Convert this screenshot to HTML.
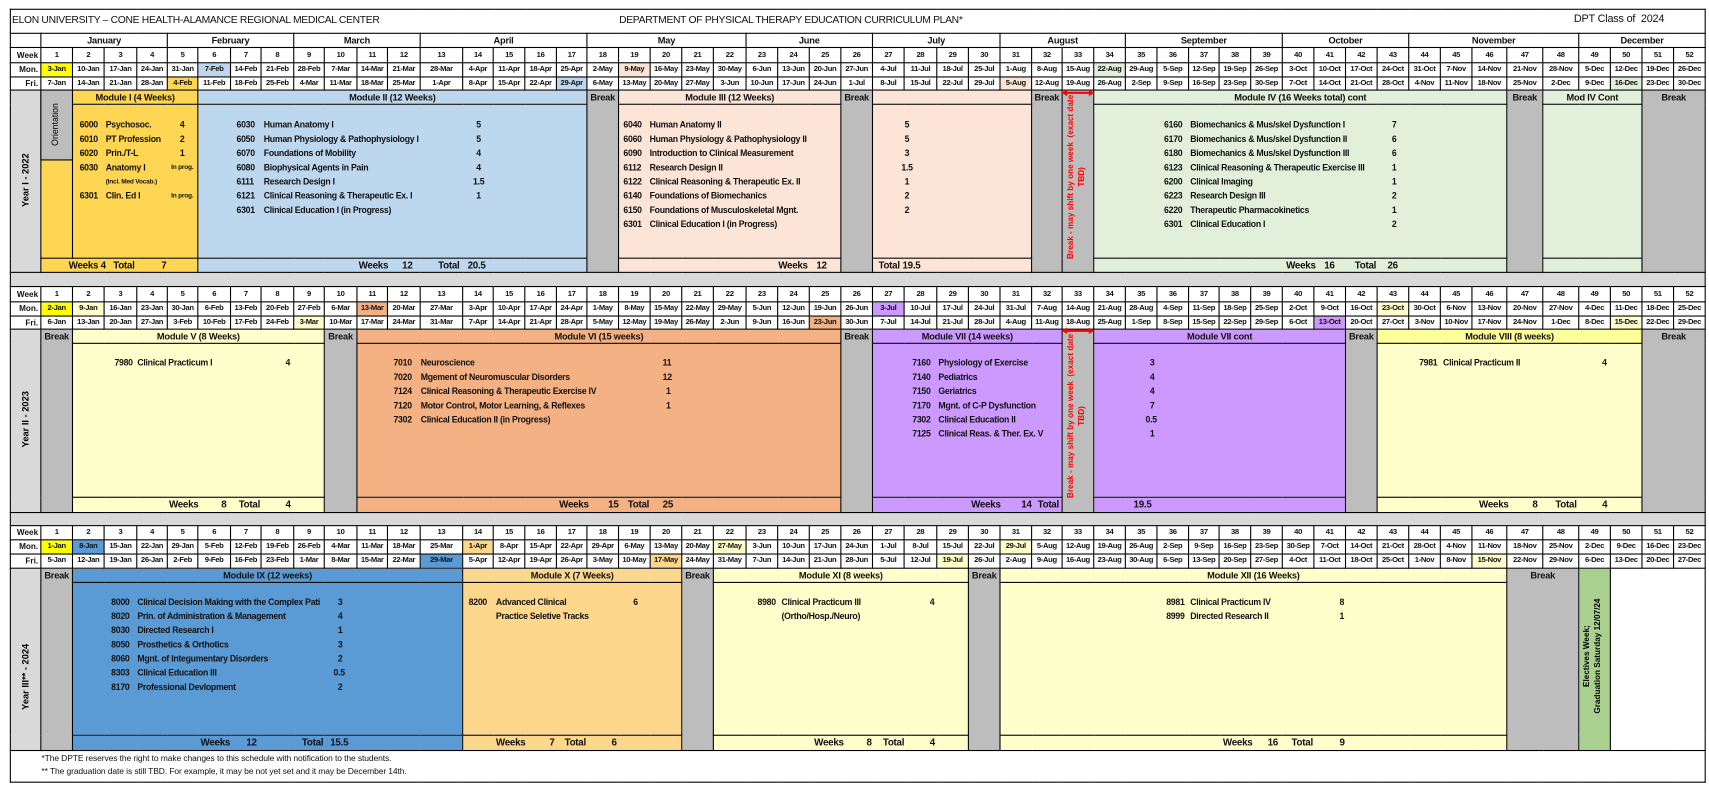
<!DOCTYPE html>
<html><head><meta charset="utf-8">
<style>
html,body{margin:0;padding:0;background:#fff;width:1709px;height:786px;overflow:hidden}
#w{position:absolute;left:0;top:0;width:1568px;height:720px;transform:scale(1.08992,1.09167);transform-origin:0 0;font-family:"Liberation Sans",sans-serif}
table{position:absolute;left:9px;top:8px;border-collapse:collapse;table-layout:fixed;width:1555px}
td{border:1px solid #000;padding:0;text-align:center;font:bold 7px/10px "Liberation Sans",sans-serif;white-space:nowrap;overflow:hidden;letter-spacing:-.3px;color:#111}
td.l{text-align:right;padding-right:2px;font-size:7.5px;letter-spacing:0}
td.mh{font-size:8.5px;letter-spacing:-.2px}
td.bk{vertical-align:top;font-size:8.5px;letter-spacing:-.2px;line-height:12px}
.g{background:#bdbdbd}.s{background:#d9d9d9}.yl{background:#ffd653}.bl{background:#bdd7ee}.sa{background:#fce4d6}.gr{background:#e2efda}
.ly{background:#ffffcc}.y9{background:#ffff99}.or{background:#f4b183}.pu{background:#cc99ff}.b9{background:#5b9bd5}.xo{background:#fdd78c}.el{background:#a9d08e}.yy{background:#ffff00}
.t{position:absolute;font:bold 8px/10px "Liberation Sans",sans-serif;letter-spacing:-.25px;white-space:nowrap;color:#111}
.sm{font-size:6px;letter-spacing:-.2px}
.rot{position:absolute;transform:rotate(-90deg);text-align:center;white-space:nowrap;font:bold 8.5px/10px "Liberation Sans",sans-serif}
</style></head><body><div id="w">
<table>
<colgroup>
<col style="width:28px">
<col style="width:29px"><col style="width:29px"><col style="width:30px"><col style="width:28px"><col style="width:28px"><col style="width:30px"><col style="width:28px"><col style="width:30px"><col style="width:28px"><col style="width:30px"><col style="width:28px"><col style="width:30px"><col style="width:39px"><col style="width:28px"><col style="width:29px"><col style="width:29px"><col style="width:28px">
<col style="width:29px"><col style="width:29px"><col style="width:29px"><col style="width:29px"><col style="width:30px"><col style="width:29px"><col style="width:29px"><col style="width:29px"><col style="width:29px"><col style="width:29px"><col style="width:30px"><col style="width:29px"><col style="width:29px">
<col style="width:29px"><col style="width:28px"><col style="width:29px"><col style="width:29px"><col style="width:29px"><col style="width:29px"><col style="width:28px"><col style="width:29px"><col style="width:29px"><col style="width:29px"><col style="width:29px"><col style="width:29px"><col style="width:29px"><col style="width:29px"><col style="width:29px"><col style="width:32px"><col style="width:33px"><col style="width:33px"><col style="width:29px"><col style="width:29px"><col style="width:29px"><col style="width:29px">
</colgroup>
<!-- BLOCK 1 -->
<tr style="height:22px"><td colspan="53"></td></tr>
<tr style="height:13px"><td style="border-left:1px solid #000"></td><td colspan="4" class="mh">January</td><td colspan="4" class="mh">February</td><td colspan="4" class="mh">March</td><td colspan="5" class="mh">April</td><td colspan="5" class="mh">May</td><td colspan="4" class="mh">June</td><td colspan="4" class="mh">July</td><td colspan="4" class="mh">August</td><td colspan="5" class="mh">September</td><td colspan="4" class="mh">October</td><td colspan="5" class="mh">November</td><td colspan="4" class="mh">December</td></tr>
<tr style="height:14px"><td class="l">Week</td><td>1</td><td>2</td><td>3</td><td>4</td><td>5</td><td>6</td><td>7</td><td>8</td><td>9</td><td>10</td><td>11</td><td>12</td><td>13</td><td>14</td><td>15</td><td>16</td><td>17</td><td>18</td><td>19</td><td>20</td><td>21</td><td>22</td><td>23</td><td>24</td><td>25</td><td>26</td><td>27</td><td>28</td><td>29</td><td>30</td><td>31</td><td>32</td><td>33</td><td>34</td><td>35</td><td>36</td><td>37</td><td>38</td><td>39</td><td>40</td><td>41</td><td>42</td><td>43</td><td>44</td><td>45</td><td>46</td><td>47</td><td>48</td><td>49</td><td>50</td><td>51</td><td>52</td></tr>
<tr style="height:13px"><td class="l">Mon.</td><td class="yy">3-Jan</td><td>10-Jan</td><td>17-Jan</td><td>24-Jan</td><td>31-Jan</td><td class="bl">7-Feb</td><td>14-Feb</td><td>21-Feb</td><td>28-Feb</td><td>7-Mar</td><td>14-Mar</td><td>21-Mar</td><td>28-Mar</td><td>4-Apr</td><td>11-Apr</td><td>18-Apr</td><td>25-Apr</td><td>2-May</td><td class="sa">9-May</td><td>16-May</td><td>23-May</td><td>30-May</td><td>6-Jun</td><td>13-Jun</td><td>20-Jun</td><td>27-Jun</td><td>4-Jul</td><td>11-Jul</td><td>18-Jul</td><td>25-Jul</td><td>1-Aug</td><td>8-Aug</td><td>15-Aug</td><td class="gr">22-Aug</td><td>29-Aug</td><td>5-Sep</td><td>12-Sep</td><td>19-Sep</td><td>26-Sep</td><td>3-Oct</td><td>10-Oct</td><td>17-Oct</td><td>24-Oct</td><td>31-Oct</td><td>7-Nov</td><td>14-Nov</td><td>21-Nov</td><td>28-Nov</td><td>5-Dec</td><td>12-Dec</td><td>19-Dec</td><td>26-Dec</td></tr>
<tr style="height:12px"><td class="l">Fri.</td><td>7-Jan</td><td>14-Jan</td><td>21-Jan</td><td>28-Jan</td><td class="yl">4-Feb</td><td>11-Feb</td><td>18-Feb</td><td>25-Feb</td><td>4-Mar</td><td>11-Mar</td><td>18-Mar</td><td>25-Mar</td><td>1-Apr</td><td>8-Apr</td><td>15-Apr</td><td>22-Apr</td><td class="bl">29-Apr</td><td>6-May</td><td>13-May</td><td>20-May</td><td>27-May</td><td>3-Jun</td><td>10-Jun</td><td>17-Jun</td><td>24-Jun</td><td>1-Jul</td><td>8-Jul</td><td>15-Jul</td><td>22-Jul</td><td>29-Jul</td><td class="sa">5-Aug</td><td>12-Aug</td><td>19-Aug</td><td>26-Aug</td><td>2-Sep</td><td>9-Sep</td><td>16-Sep</td><td>23-Sep</td><td>30-Sep</td><td>7-Oct</td><td>14-Oct</td><td>21-Oct</td><td>28-Oct</td><td>4-Nov</td><td>11-Nov</td><td>18-Nov</td><td>25-Nov</td><td>2-Dec</td><td>9-Dec</td><td class="gr">16-Dec</td><td>23-Dec</td><td>30-Dec</td></tr>
<tr style="height:13px"><td rowspan="3" class="s"></td><td rowspan="2" class="yl"></td><td colspan="4" class="yl mh">Module I (4 Weeks)</td><td colspan="12" class="bl mh">Module II (12 Weeks)</td><td rowspan="3" class="g bk">Break</td><td colspan="7" class="sa mh">Module III (12 Weeks)</td><td rowspan="3" class="g bk">Break</td><td colspan="5" class="sa"></td><td rowspan="3" class="g bk">Break</td><td rowspan="3" class="g"></td><td colspan="13" class="gr mh">Module IV (16 Weeks total) cont</td><td rowspan="3" class="g bk">Break</td><td colspan="3" class="gr mh">Mod IV Cont</td><td colspan="2" rowspan="3" class="g bk">Break</td></tr>
<tr style="height:141px"><td colspan="4" class="yl"></td><td colspan="12" class="bl"></td><td colspan="7" class="sa"></td><td colspan="5" class="sa"></td><td colspan="13" class="gr"></td><td colspan="3" class="gr"></td></tr>
<tr style="height:13px"><td colspan="5" class="yl"></td><td colspan="12" class="bl"></td><td colspan="7" class="sa"></td><td colspan="5" class="sa"></td><td colspan="13" class="gr"></td><td colspan="3" class="gr"></td></tr>
<tr style="height:13px"><td colspan="53" class="s"></td></tr>
<!-- BLOCK 2 -->
<tr style="height:14px"><td class="l">Week</td><td>1</td><td>2</td><td>3</td><td>4</td><td>5</td><td>6</td><td>7</td><td>8</td><td>9</td><td>10</td><td>11</td><td>12</td><td>13</td><td>14</td><td>15</td><td>16</td><td>17</td><td>18</td><td>19</td><td>20</td><td>21</td><td>22</td><td>23</td><td>24</td><td>25</td><td>26</td><td>27</td><td>28</td><td>29</td><td>30</td><td>31</td><td>32</td><td>33</td><td>34</td><td>35</td><td>36</td><td>37</td><td>38</td><td>39</td><td>40</td><td>41</td><td>42</td><td>43</td><td>44</td><td>45</td><td>46</td><td>47</td><td>48</td><td>49</td><td>50</td><td>51</td><td>52</td></tr>
<tr style="height:13px"><td class="l">Mon.</td><td class="yy">2-Jan</td><td class="ly">9-Jan</td><td>16-Jan</td><td>23-Jan</td><td>30-Jan</td><td>6-Feb</td><td>13-Feb</td><td>20-Feb</td><td>27-Feb</td><td>6-Mar</td><td class="or">13-Mar</td><td>20-Mar</td><td>27-Mar</td><td>3-Apr</td><td>10-Apr</td><td>17-Apr</td><td>24-Apr</td><td>1-May</td><td>8-May</td><td>15-May</td><td>22-May</td><td>29-May</td><td>5-Jun</td><td>12-Jun</td><td>19-Jun</td><td>26-Jun</td><td class="pu">3-Jul</td><td>10-Jul</td><td>17-Jul</td><td>24-Jul</td><td>31-Jul</td><td>7-Aug</td><td>14-Aug</td><td>21-Aug</td><td>28-Aug</td><td>4-Sep</td><td>11-Sep</td><td>18-Sep</td><td>25-Sep</td><td>2-Oct</td><td>9-Oct</td><td>16-Oct</td><td class="ly">23-Oct</td><td>30-Oct</td><td>6-Nov</td><td>13-Nov</td><td>20-Nov</td><td>27-Nov</td><td>4-Dec</td><td>11-Dec</td><td>18-Dec</td><td>25-Dec</td></tr>
<tr style="height:12px"><td class="l">Fri.</td><td>6-Jan</td><td>13-Jan</td><td>20-Jan</td><td>27-Jan</td><td>3-Feb</td><td>10-Feb</td><td>17-Feb</td><td>24-Feb</td><td class="ly">3-Mar</td><td>10-Mar</td><td>17-Mar</td><td>24-Mar</td><td>31-Mar</td><td>7-Apr</td><td>14-Apr</td><td>21-Apr</td><td>28-Apr</td><td>5-May</td><td>12-May</td><td>19-May</td><td>26-May</td><td>2-Jun</td><td>9-Jun</td><td>16-Jun</td><td class="or">23-Jun</td><td>30-Jun</td><td>7-Jul</td><td>14-Jul</td><td>21-Jul</td><td>28-Jul</td><td>4-Aug</td><td>11-Aug</td><td>18-Aug</td><td>25-Aug</td><td>1-Sep</td><td>8-Sep</td><td>15-Sep</td><td>22-Sep</td><td>29-Sep</td><td>6-Oct</td><td class="pu">13-Oct</td><td>20-Oct</td><td>27-Oct</td><td>3-Nov</td><td>10-Nov</td><td>17-Nov</td><td>24-Nov</td><td>1-Dec</td><td>8-Dec</td><td class="ly">15-Dec</td><td>22-Dec</td><td>29-Dec</td></tr>
<tr style="height:13px"><td rowspan="3" class="s"></td><td rowspan="3" class="g bk">Break</td><td colspan="8" class="ly mh">Module V (8 Weeks)</td><td rowspan="3" class="g bk">Break</td><td colspan="15" class="or mh">Module VI (15 weeks)</td><td rowspan="3" class="g bk">Break</td><td colspan="6" class="pu mh">Module VII (14 weeks)</td><td rowspan="3" class="g"></td><td colspan="8" class="pu mh">Module VII cont</td><td rowspan="3" class="g bk">Break</td><td colspan="8" class="y9 mh">Module VIII (8 weeks)</td><td colspan="2" rowspan="3" class="g bk">Break</td></tr>
<tr style="height:141px"><td colspan="8" class="ly"></td><td colspan="15" class="or"></td><td colspan="6" class="pu"></td><td colspan="8" class="pu"></td><td colspan="8" class="ly"></td></tr>
<tr style="height:14px"><td colspan="8" class="ly"></td><td colspan="15" class="or"></td><td colspan="6" class="pu"></td><td colspan="8" class="pu"></td><td colspan="8" class="ly"></td></tr>
<tr style="height:12px"><td colspan="53" class="s"></td></tr>
<!-- BLOCK 3 -->
<tr style="height:13px"><td class="l">Week</td><td>1</td><td>2</td><td>3</td><td>4</td><td>5</td><td>6</td><td>7</td><td>8</td><td>9</td><td>10</td><td>11</td><td>12</td><td>13</td><td>14</td><td>15</td><td>16</td><td>17</td><td>18</td><td>19</td><td>20</td><td>21</td><td>22</td><td>23</td><td>24</td><td>25</td><td>26</td><td>27</td><td>28</td><td>29</td><td>30</td><td>31</td><td>32</td><td>33</td><td>34</td><td>35</td><td>36</td><td>37</td><td>38</td><td>39</td><td>40</td><td>41</td><td>42</td><td>43</td><td>44</td><td>45</td><td>46</td><td>47</td><td>48</td><td>49</td><td>50</td><td>51</td><td>52</td></tr>
<tr style="height:13px"><td class="l">Mon.</td><td class="yy">1-Jan</td><td class="b9">8-Jan</td><td>15-Jan</td><td>22-Jan</td><td>29-Jan</td><td>5-Feb</td><td>12-Feb</td><td>19-Feb</td><td>26-Feb</td><td>4-Mar</td><td>11-Mar</td><td>18-Mar</td><td>25-Mar</td><td class="xo">1-Apr</td><td>8-Apr</td><td>15-Apr</td><td>22-Apr</td><td>29-Apr</td><td>6-May</td><td>13-May</td><td>20-May</td><td class="ly">27-May</td><td>3-Jun</td><td>10-Jun</td><td>17-Jun</td><td>24-Jun</td><td>1-Jul</td><td>8-Jul</td><td>15-Jul</td><td>22-Jul</td><td class="ly">29-Jul</td><td>5-Aug</td><td>12-Aug</td><td>19-Aug</td><td>26-Aug</td><td>2-Sep</td><td>9-Sep</td><td>16-Sep</td><td>23-Sep</td><td>30-Sep</td><td>7-Oct</td><td>14-Oct</td><td>21-Oct</td><td>28-Oct</td><td>4-Nov</td><td>11-Nov</td><td>18-Nov</td><td>25-Nov</td><td>2-Dec</td><td>9-Dec</td><td>16-Dec</td><td>23-Dec</td></tr>
<tr style="height:13px"><td class="l">Fri.</td><td>5-Jan</td><td>12-Jan</td><td>19-Jan</td><td>26-Jan</td><td>2-Feb</td><td>9-Feb</td><td>16-Feb</td><td>23-Feb</td><td>1-Mar</td><td>8-Mar</td><td>15-Mar</td><td>22-Mar</td><td class="b9">29-Mar</td><td>5-Apr</td><td>12-Apr</td><td>19-Apr</td><td>26-Apr</td><td>3-May</td><td>10-May</td><td class="xo">17-May</td><td>24-May</td><td>31-May</td><td>7-Jun</td><td>14-Jun</td><td>21-Jun</td><td>28-Jun</td><td>5-Jul</td><td>12-Jul</td><td class="ly">19-Jul</td><td>26-Jul</td><td>2-Aug</td><td>9-Aug</td><td>16-Aug</td><td>23-Aug</td><td>30-Aug</td><td>6-Sep</td><td>13-Sep</td><td>20-Sep</td><td>27-Sep</td><td>4-Oct</td><td>11-Oct</td><td>18-Oct</td><td>25-Oct</td><td>1-Nov</td><td>8-Nov</td><td class="ly">15-Nov</td><td>22-Nov</td><td>29-Nov</td><td>6-Dec</td><td>13-Dec</td><td>20-Dec</td><td>27-Dec</td></tr>
<tr style="height:13px"><td rowspan="3" class="s"></td><td rowspan="3" class="g bk">Break</td><td colspan="12" class="b9 mh">Module IX (12 weeks)</td><td colspan="7" class="xo mh">Module X (7 Weeks)</td><td rowspan="3" class="g bk">Break</td><td colspan="8" class="ly mh">Module XI (8 weeks)</td><td rowspan="3" class="g bk">Break</td><td colspan="16" class="ly mh">Module XII (16 Weeks)</td><td colspan="2" rowspan="3" class="g bk">Break</td><td rowspan="3" class="el"></td><td colspan="3" rowspan="3"></td></tr>
<tr style="height:140px"><td colspan="12" class="b9"></td><td colspan="7" class="xo"></td><td colspan="8" class="ly"></td><td colspan="16" class="ly"></td></tr>
<tr style="height:14px"><td colspan="12" class="b9"></td><td colspan="7" class="xo"></td><td colspan="8" class="ly"></td><td colspan="16" class="ly"></td></tr>
<tr style="height:29px"><td colspan="53"></td></tr>
</table>

<!-- Titles -->
<div class="t" style="left:11px;top:13px;font:9.5px/12px 'Liberation Sans',sans-serif;letter-spacing:-.3px">ELON UNIVERSITY – CONE HEALTH-ALAMANCE REGIONAL MEDICAL CENTER</div>
<div class="t" style="left:568px;top:13px;font:9.5px/12px 'Liberation Sans',sans-serif;letter-spacing:-.3px">DEPARTMENT OF PHYSICAL THERAPY EDUCATION CURRICULUM PLAN*</div>
<div class="t" style="left:1444px;top:12px;font:10px/12px 'Liberation Sans',sans-serif;letter-spacing:-.2px">DPT Class of &nbsp;2024</div>

<!-- Orientation box -->
<div style="position:absolute;left:37px;top:82px;width:28px;height:63px;background:#bdbdbd;border:1px solid #000"></div>
<div class="rot" style="left:16px;top:109px;width:70px;height:10px;font-weight:normal;font-size:8px">Orientation</div>

<!-- Year labels -->
<div class="rot" style="left:-17px;top:160px;width:80px;height:10px">Year I - 2022</div>
<div class="rot" style="left:-17px;top:379px;width:80px;height:10px">Year II - 2023</div>
<div class="rot" style="left:-22px;top:615px;width:90px;height:10px">Year III** - 2024</div>

<!-- Red vertical break notes -->
<div class="rot" style="left:905px;top:151px;width:167px;height:22px;color:#f00;font-size:7.5px;line-height:10px">Break - may shift by one week &nbsp;(exact date<br>TBD)</div>
<div class="rot" style="left:905px;top:370px;width:167px;height:22px;color:#f00;font-size:7.5px;line-height:10px">Break - may shift by one week &nbsp;(exact date<br>TBD)</div>
<svg style="position:absolute;left:974px;top:80px" width="30" height="10"><line x1="3" y1="5" x2="27" y2="5" stroke="#f00" stroke-width="2"/><polygon points="0,5 5,2 5,8" fill="#f00"/><polygon points="30,5 25,2 25,8" fill="#f00"/></svg>
<svg style="position:absolute;left:974px;top:298px" width="30" height="10"><line x1="3" y1="5" x2="27" y2="5" stroke="#f00" stroke-width="2"/><polygon points="0,5 5,2 5,8" fill="#f00"/><polygon points="30,5 25,2 25,8" fill="#f00"/></svg>

<!-- Electives -->
<div class="rot" style="left:1402px;top:590px;width:120px;height:22px;font-size:7.5px;line-height:10px">Electives Week;<br>Graduation Saturday 12/07/24</div>

<!-- Year 1 Module I -->
<div class="t" style="left:73px;top:110px">6000</div><div class="t" style="left:97px;top:110px">Psychosoc.</div><div class="t" style="left:165px;top:110px">4</div>
<div class="t" style="left:73px;top:123px">6010</div><div class="t" style="left:97px;top:123px">PT Profession</div><div class="t" style="left:165px;top:123px">2</div>
<div class="t" style="left:73px;top:136px">6020</div><div class="t" style="left:97px;top:136px">Prin./T-L</div><div class="t" style="left:165px;top:136px">1</div>
<div class="t" style="left:73px;top:149px">6030</div><div class="t" style="left:97px;top:149px">Anatomy I</div><div class="t sm" style="left:157px;top:149px">In prog.</div>
<div class="t sm" style="left:97px;top:162px">(Incl. Med Vocab.)</div>
<div class="t" style="left:73px;top:175px">6301</div><div class="t" style="left:97px;top:175px">Clin. Ed I</div><div class="t sm" style="left:157px;top:175px">In prog.</div>
<div class="t" style="left:63px;top:238px;font-size:9px">Weeks 4 &nbsp; Total</div><div class="t" style="left:148px;top:238px;font-size:9px">7</div>

<!-- Module II -->
<div class="t" style="left:217px;top:110px">6030</div><div class="t" style="left:242px;top:110px">Human Anatomy I</div><div class="t" style="left:437px;top:110px">5</div>
<div class="t" style="left:217px;top:123px">6050</div><div class="t" style="left:242px;top:123px">Human Physiology &amp; Pathophysiology I</div><div class="t" style="left:437px;top:123px">5</div>
<div class="t" style="left:217px;top:136px">6070</div><div class="t" style="left:242px;top:136px">Foundations of Mobility</div><div class="t" style="left:437px;top:136px">4</div>
<div class="t" style="left:217px;top:149px">6080</div><div class="t" style="left:242px;top:149px">Biophysical Agents in Pain</div><div class="t" style="left:437px;top:149px">4</div>
<div class="t" style="left:217px;top:162px">6111</div><div class="t" style="left:242px;top:162px">Research Design I</div><div class="t" style="left:434px;top:162px">1.5</div>
<div class="t" style="left:217px;top:175px">6121</div><div class="t" style="left:242px;top:175px">Clinical Reasoning &amp; Therapeutic Ex. I</div><div class="t" style="left:437px;top:175px">1</div>
<div class="t" style="left:217px;top:188px">6301</div><div class="t" style="left:242px;top:188px">Clinical Education I (in Progress)</div>
<div class="t" style="left:329px;top:238px;font-size:9px">Weeks</div><div class="t" style="left:369px;top:238px;font-size:9px">12</div><div class="t" style="left:402px;top:238px;font-size:9px">Total</div><div class="t" style="left:429px;top:238px;font-size:9px">20.5</div>

<!-- Module III -->
<div class="t" style="left:572px;top:110px">6040</div><div class="t" style="left:596px;top:110px">Human Anatomy II</div><div class="t" style="left:830px;top:110px">5</div>
<div class="t" style="left:572px;top:123px">6060</div><div class="t" style="left:596px;top:123px">Human Physiology &amp; Pathophysiology II</div><div class="t" style="left:830px;top:123px">5</div>
<div class="t" style="left:572px;top:136px">6090</div><div class="t" style="left:596px;top:136px">Introduction to Clinical Measurement</div><div class="t" style="left:830px;top:136px">3</div>
<div class="t" style="left:572px;top:149px">6112</div><div class="t" style="left:596px;top:149px">Research Design II</div><div class="t" style="left:827px;top:149px">1.5</div>
<div class="t" style="left:572px;top:162px">6122</div><div class="t" style="left:596px;top:162px">Clinical Reasoning &amp; Therapeutic Ex. II</div><div class="t" style="left:830px;top:162px">1</div>
<div class="t" style="left:572px;top:175px">6140</div><div class="t" style="left:596px;top:175px">Foundations of Biomechanics</div><div class="t" style="left:830px;top:175px">2</div>
<div class="t" style="left:572px;top:188px">6150</div><div class="t" style="left:596px;top:188px">Foundations of Musculoskeletal Mgnt.</div><div class="t" style="left:830px;top:188px">2</div>
<div class="t" style="left:572px;top:201px">6301</div><div class="t" style="left:596px;top:201px">Clinical Education I (in Progress)</div>
<div class="t" style="left:714px;top:238px;font-size:9px">Weeks</div><div class="t" style="left:749px;top:238px;font-size:9px">12</div>
<div class="t" style="left:806px;top:238px;font-size:9px">Total</div><div class="t" style="left:828px;top:238px;font-size:9px">19.5</div>

<!-- Module IV -->
<div class="t" style="left:1068px;top:110px">6160</div><div class="t" style="left:1092px;top:110px">Biomechanics &amp; Mus/skel Dysfunction I</div><div class="t" style="left:1277px;top:110px">7</div>
<div class="t" style="left:1068px;top:123px">6170</div><div class="t" style="left:1092px;top:123px">Biomechanics &amp; Mus/skel Dysfunction II</div><div class="t" style="left:1277px;top:123px">6</div>
<div class="t" style="left:1068px;top:136px">6180</div><div class="t" style="left:1092px;top:136px">Biomechanics &amp; Mus/skel Dysfunction III</div><div class="t" style="left:1277px;top:136px">6</div>
<div class="t" style="left:1068px;top:149px">6123</div><div class="t" style="left:1092px;top:149px">Clinical Reasoning &amp; Therapeutic Exercise III</div><div class="t" style="left:1277px;top:149px">1</div>
<div class="t" style="left:1068px;top:162px">6200</div><div class="t" style="left:1092px;top:162px">Clinical Imaging</div><div class="t" style="left:1277px;top:162px">1</div>
<div class="t" style="left:1068px;top:175px">6223</div><div class="t" style="left:1092px;top:175px">Research Design III</div><div class="t" style="left:1277px;top:175px">2</div>
<div class="t" style="left:1068px;top:188px">6220</div><div class="t" style="left:1092px;top:188px">Therapeutic Pharmacokinetics</div><div class="t" style="left:1277px;top:188px">1</div>
<div class="t" style="left:1068px;top:201px">6301</div><div class="t" style="left:1092px;top:201px">Clinical Education I</div><div class="t" style="left:1277px;top:201px">2</div>
<div class="t" style="left:1180px;top:238px;font-size:9px">Weeks</div><div class="t" style="left:1215px;top:238px;font-size:9px">16</div><div class="t" style="left:1243px;top:238px;font-size:9px">Total</div><div class="t" style="left:1273px;top:238px;font-size:9px">26</div>

<!-- Year 2 -->
<div class="t" style="left:105px;top:328px">7980</div><div class="t" style="left:126px;top:328px">Clinical Practicum I</div><div class="t" style="left:262px;top:328px">4</div>
<div class="t" style="left:155px;top:457px;font-size:9px">Weeks</div><div class="t" style="left:203px;top:457px;font-size:9px">8</div><div class="t" style="left:219px;top:457px;font-size:9px">Total</div><div class="t" style="left:262px;top:457px;font-size:9px">4</div>

<div class="t" style="left:361px;top:328px">7010</div><div class="t" style="left:386px;top:328px">Neuroscience</div><div class="t" style="left:608px;top:328px">11</div>
<div class="t" style="left:361px;top:341px">7020</div><div class="t" style="left:386px;top:341px">Mgement of Neuromuscular Disorders</div><div class="t" style="left:608px;top:341px">12</div>
<div class="t" style="left:361px;top:354px">7124</div><div class="t" style="left:386px;top:354px">Clinical Reasoning &amp; Therapeutic Exercise IV</div><div class="t" style="left:611px;top:354px">1</div>
<div class="t" style="left:361px;top:367px">7120</div><div class="t" style="left:386px;top:367px">Motor Control, Motor Learning, &amp; Reflexes</div><div class="t" style="left:611px;top:367px">1</div>
<div class="t" style="left:361px;top:380px">7302</div><div class="t" style="left:386px;top:380px">Clinical Education II (in Progress)</div>
<div class="t" style="left:513px;top:457px;font-size:9px">Weeks</div><div class="t" style="left:558px;top:457px;font-size:9px">15</div><div class="t" style="left:576px;top:457px;font-size:9px">Total</div><div class="t" style="left:608px;top:457px;font-size:9px">25</div>

<div class="t" style="left:837px;top:328px">7160</div><div class="t" style="left:861px;top:328px">Physiology of Exercise</div><div class="t" style="left:1055px;top:328px">3</div>
<div class="t" style="left:837px;top:341px">7140</div><div class="t" style="left:861px;top:341px">Pediatrics</div><div class="t" style="left:1055px;top:341px">4</div>
<div class="t" style="left:837px;top:354px">7150</div><div class="t" style="left:861px;top:354px">Geriatrics</div><div class="t" style="left:1055px;top:354px">4</div>
<div class="t" style="left:837px;top:367px">7170</div><div class="t" style="left:861px;top:367px">Mgnt. of C-P Dysfunction</div><div class="t" style="left:1055px;top:367px">7</div>
<div class="t" style="left:837px;top:380px">7302</div><div class="t" style="left:861px;top:380px">Clinical Education II</div><div class="t" style="left:1051px;top:380px">0.5</div>
<div class="t" style="left:837px;top:393px">7125</div><div class="t" style="left:861px;top:393px">Clinical Reas. &amp; Ther. Ex. V</div><div class="t" style="left:1055px;top:393px">1</div>
<div class="t" style="left:891px;top:457px;font-size:9px">Weeks</div><div class="t" style="left:937px;top:457px;font-size:9px">14</div><div class="t" style="left:952px;top:457px;font-size:9px">Total</div><div class="t" style="left:1040px;top:457px;font-size:9px">19.5</div>

<div class="t" style="left:1302px;top:328px">7981</div><div class="t" style="left:1324px;top:328px">Clinical Practicum II</div><div class="t" style="left:1470px;top:328px">4</div>
<div class="t" style="left:1357px;top:457px;font-size:9px">Weeks</div><div class="t" style="left:1406px;top:457px;font-size:9px">8</div><div class="t" style="left:1427px;top:457px;font-size:9px">Total</div><div class="t" style="left:1470px;top:457px;font-size:9px">4</div>

<!-- Year 3 -->
<div class="t" style="left:102px;top:547px">8000</div><div class="t" style="left:126px;top:547px">Clinical Decision Making with the Complex Pati</div><div class="t" style="left:310px;top:547px">3</div>
<div class="t" style="left:102px;top:560px">8020</div><div class="t" style="left:126px;top:560px">Prin. of Administration &amp; Management</div><div class="t" style="left:310px;top:560px">4</div>
<div class="t" style="left:102px;top:573px">8030</div><div class="t" style="left:126px;top:573px">Directed Research I</div><div class="t" style="left:310px;top:573px">1</div>
<div class="t" style="left:102px;top:586px">8050</div><div class="t" style="left:126px;top:586px">Prosthetics &amp; Orthotics</div><div class="t" style="left:310px;top:586px">3</div>
<div class="t" style="left:102px;top:599px">8060</div><div class="t" style="left:126px;top:599px">Mgnt. of Integumentary Disorders</div><div class="t" style="left:310px;top:599px">2</div>
<div class="t" style="left:102px;top:612px">8303</div><div class="t" style="left:126px;top:612px">Clinical Education III</div><div class="t" style="left:306px;top:612px">0.5</div>
<div class="t" style="left:102px;top:625px">8170</div><div class="t" style="left:126px;top:625px">Professional Devlopment</div><div class="t" style="left:310px;top:625px">2</div>
<div class="t" style="left:184px;top:675px;font-size:9px">Weeks</div><div class="t" style="left:226px;top:675px;font-size:9px">12</div><div class="t" style="left:277px;top:675px;font-size:9px">Total</div><div class="t" style="left:303px;top:675px;font-size:9px">15.5</div>

<div class="t" style="left:430px;top:547px">8200</div><div class="t" style="left:455px;top:547px">Advanced Clinical</div><div class="t" style="left:581px;top:547px">6</div>
<div class="t" style="left:455px;top:560px">Practice Seletive Tracks</div>
<div class="t" style="left:455px;top:675px;font-size:9px">Weeks</div><div class="t" style="left:504px;top:675px;font-size:9px">7</div><div class="t" style="left:518px;top:675px;font-size:9px">Total</div><div class="t" style="left:561px;top:675px;font-size:9px">6</div>

<div class="t" style="left:695px;top:547px">8980</div><div class="t" style="left:717px;top:547px">Clinical Practicum III</div><div class="t" style="left:853px;top:547px">4</div>
<div class="t" style="left:717px;top:560px">(Ortho/Hosp./Neuro)</div>
<div class="t" style="left:747px;top:675px;font-size:9px">Weeks</div><div class="t" style="left:795px;top:675px;font-size:9px">8</div><div class="t" style="left:810px;top:675px;font-size:9px">Total</div><div class="t" style="left:853px;top:675px;font-size:9px">4</div>

<div class="t" style="left:1070px;top:547px">8981</div><div class="t" style="left:1092px;top:547px">Clinical Practicum IV</div><div class="t" style="left:1229px;top:547px">8</div>
<div class="t" style="left:1070px;top:560px">8999</div><div class="t" style="left:1092px;top:560px">Directed Research II</div><div class="t" style="left:1229px;top:560px">1</div>
<div class="t" style="left:1122px;top:675px;font-size:9px">Weeks</div><div class="t" style="left:1163px;top:675px;font-size:9px">16</div><div class="t" style="left:1185px;top:675px;font-size:9px">Total</div><div class="t" style="left:1229px;top:675px;font-size:9px">9</div>

<!-- Footnotes -->
<div class="t" style="left:38px;top:690px;font:7.8px/10px 'Liberation Sans',sans-serif;letter-spacing:-.1px">*The DPTE reserves the right to make changes to this schedule with notification to the students.</div>
<div class="t" style="left:38px;top:702px;font:7.8px/10px 'Liberation Sans',sans-serif;letter-spacing:-.1px">** The graduation date is still TBD. For example, it may be not yet set and it may be December 14th.</div>
</div></body></html>
